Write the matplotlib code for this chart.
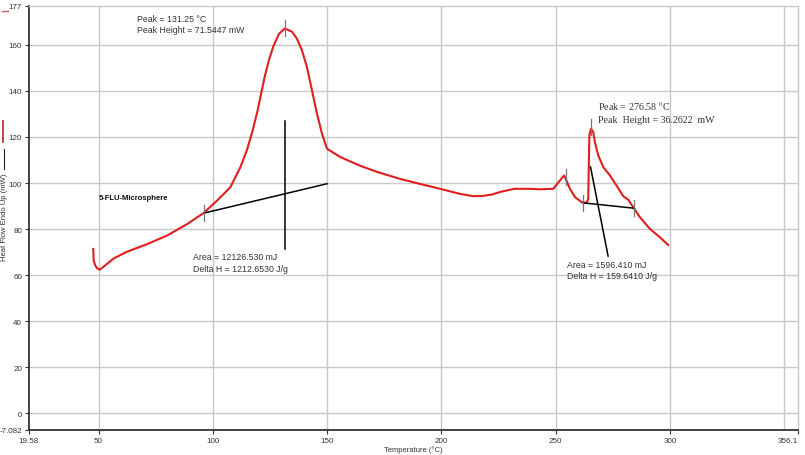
import numpy as np
import matplotlib.pyplot as plt

# DSC trace (temperature in C, heat flow in mW)
temp = [47.7, 47.9, 48.6, 49.4, 50.6, 53.1, 56.7, 62.5, 71.3, 80.0, 88.8, 96.0,
        101.9, 107.7, 112.1, 115.0, 117.5, 119.5, 121.2, 122.8, 124.6, 126.6,
        129.0, 131.5, 134.7, 136.8, 139.0, 141.2, 143.4, 145.6, 147.8, 150.0,
        155.8, 164.5, 172, 182, 190, 199.5, 208.2, 214, 218, 222, 226, 232,
        238.8, 243.2, 249.0, 251.9, 253.7, 254.8, 256.3, 258.5, 261.4, 263.6,
        264.3, 264.6, 264.8, 265.5, 266.5, 267.2, 268.7, 270.9, 273.8, 276.7,
        279.6, 281.8, 284.0, 286.9, 291.3, 295.6, 299.3]
heat = [71.4, 66.3, 64.2, 63.0, 62.4, 64.4, 67.3, 70.2, 73.5, 77.2, 82.2, 87.0,
        92.4, 98.2, 106.9, 114.5, 123.0, 131.0, 139.0, 146.5, 153.5, 159.6,
        164.8, 167.1, 165.7, 162.7, 157.7, 150.4, 140.3, 130.1, 121.4, 114.9,
        111.3, 107.5, 104.8, 101.8, 99.8, 97.5, 95.3, 94.3, 94.4, 95, 96.2, 97.5,
        97.5, 97.3, 97.5, 101.1, 103.3, 101.1, 97.5, 93.9, 91.7, 91.4,
        93.1, 110.5, 120.7, 123.6, 122.2, 117.8, 112.0, 106.9, 103.3, 98.9,
        94.3, 92.8, 89.5, 85.2, 80.1, 76.5, 73.1]

# integration baselines and peak markers
base1_x = [96.3, 150.0]
base1_y = [87.0, 99.7]
peak1_x = [131.5, 131.5]
peak1_y = [127.0, 71.4]
base2_x = [262.1, 284.2]
base2_y = [91.4, 89.1]
peak2_x = [265.3, 273.0]
peak2_y = [107.0, 68.3]

x_min, x_max = 19.58, 356.1
y_min, y_max = -7.082, 177
x_ticks = [19.58, 50, 100, 150, 200, 250, 300, 356.1]
x_labels = ["19.58", "50", "100", "150", "200", "250", "300", "356.1"]
y_ticks = [-7.082, 0, 20, 40, 60, 80, 100, 120, 140, 160, 177]
y_labels = ["-7.082", "0", "20", "40", "60", "80", "100", "120", "140", "160", "177"]

plt.rcParams['font.family'] = ['Liberation Sans', 'DejaVu Sans']
plt.rcParams['mathtext.fontset'] = 'stix'

fig = plt.figure(figsize=(8.05, 4.56), dpi=100)
ax = fig.add_axes([29/805, 25.3/456, 769/805, 424/456])
ax.set_xlim(x_min, x_max)
ax.set_ylim(y_min, y_max)

grid_c = "#c8c8c8"
for gx in [50, 100, 150, 200, 250, 300, 350]:
    ax.axvline(gx, color=grid_c, lw=1, zorder=0)
for gy in [0, 20, 40, 60, 80, 100, 120, 140, 160]:
    ax.axhline(gy, color=grid_c, lw=1, zorder=0)

ax.plot(temp, heat, color="#e01e1e", lw=1.5, zorder=3, solid_joinstyle="round")
ax.plot(base1_x, base1_y, color="black", lw=1.1, zorder=4)
ax.plot(peak1_x, peak1_y, color="black", lw=1.1, zorder=4)
ax.plot(base2_x, base2_y, color="black", lw=1.1, zorder=4)
ax.plot(peak2_x, peak2_y, color="black", lw=1.1, zorder=4)

# small gray cursor ticks on the curve
for tx, ty in [(96.3, 87.0), (131.5, 167.5), (265.4, 124.5), (262.1, 91.4),
               (284.2, 89.1), (254.4, 102.5)]:
    ax.plot([tx, tx], [ty - 3.5, ty + 3.5], color="#777777", lw=0.9, zorder=5)

ax.set_xticks(x_ticks)
ax.set_xticklabels(x_labels)
ax.set_yticks(y_ticks)
ax.set_yticklabels(y_labels)
ax.tick_params(axis="both", labelsize=5.8, colors="#333333", length=3, width=0.8, pad=2)
ax.get_xticklabels()[-1].set_horizontalalignment("right")

for s in ["left", "bottom"]:
    ax.spines[s].set_color("#333333")
    ax.spines[s].set_linewidth(1.3)
for s in ["top", "right"]:
    ax.spines[s].set_color(grid_c)
    ax.spines[s].set_linewidth(1)

ax.set_xlabel("Temperature (°C)", fontsize=5.5, color="#333333", labelpad=1)

tc = "#333333"
ax.text(67.0, 171.5, "Peak = 131.25 °C", fontsize=6.3, color=tc, va="center")
ax.text(67.0, 166.7, "Peak Height = 71.5447 mW", fontsize=6.3, color=tc, va="center")
ax.text(50.0, 93.6, "5-FLU-Microsphere", fontsize=5.5, weight="bold", color="#111111", va="center")
ax.text(91.5, 67.9, "Area = 12126.530 mJ", fontsize=6.3, color=tc, va="center")
ax.text(91.5, 63.1, "Delta H = 1212.6530 J/g", fontsize=6.3, color=tc, va="center")
ax.text(268.5, 133.6, "Peak = 276.58 $^{0}$C", fontsize=7.2, color=tc, va="center",
        family="Liberation Serif")
ax.text(268.5, 127.5, "Peak  Height = 36.2622  mW", fontsize=7.2, color=tc, va="center",
        family="Liberation Serif")
ax.text(255.0, 64.8, "Area = 1596.410 mJ", fontsize=6.3, color=tc, va="center")
ax.text(255.0, 60.0, "Delta H = 159.6410 J/g", fontsize=6.3, color=tc, va="center")

# legend marks and y label down the left edge
fig.add_artist(plt.Line2D([2/805, 8/805], [1 - 11.5/456, 1 - 11.5/456], color="#d06060", lw=1))
fig.add_artist(plt.Line2D([3/805, 3/805], [1 - 122/456, 1 - 143/456], color="#c03030", lw=1.3))
fig.add_artist(plt.Line2D([4/805, 4/805], [1 - 150/456, 1 - 170/456], color="#222222", lw=0.8))
fig.text(5/805, 1 - 217/456, "Heat Flow Endo Up (mW)", rotation=90, fontsize=5.5,
         color="#333333", ha="center", va="center")

fig.savefig("out.png", dpi=100)
